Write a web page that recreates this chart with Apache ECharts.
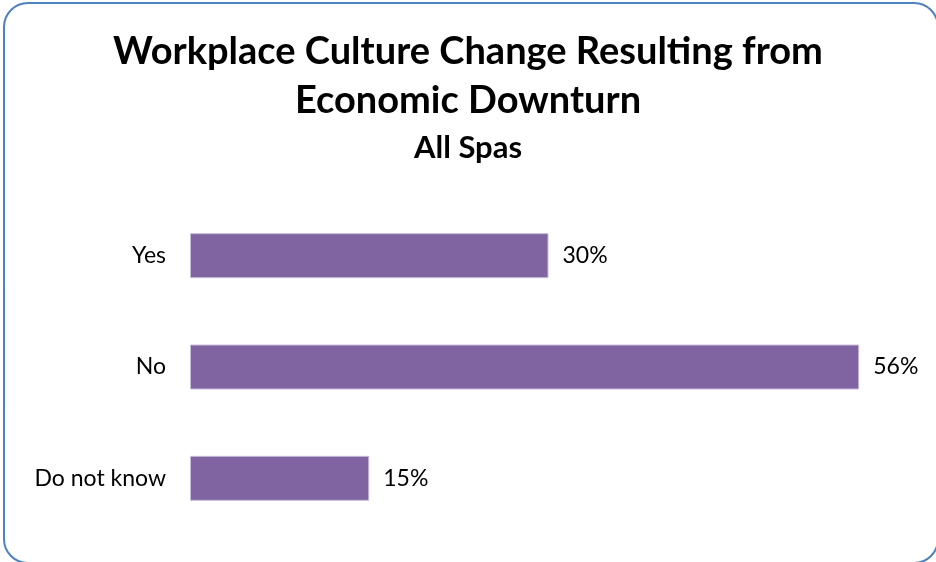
<!DOCTYPE html>
<html>
<head>
<meta charset="utf-8">
<script src="https://cdn.jsdelivr.net/npm/echarts@6/dist/echarts.min.js"></script>
<style>
  html, body { margin: 0; padding: 0; background: #ffffff; }
  #chart { width: 936px; height: 562px; }
</style>
</head>
<body>
<div id="chart"></div>
<script>
// Survey answers and their shares (percent)
const categories = ['Yes', 'No', 'Do not know'];
const shares = [30, 56, 15];

const titleLines = ['Workplace Culture Change Resulting from', 'Economic Downturn'];
const subtitleText = 'All Spas';

const chart = echarts.init(document.getElementById('chart'), null, { renderer: 'canvas' });

const option = {
  backgroundColor: '#ffffff',
  animation: false,
  title: [
    {
      text: titleLines.join('\n'),
      left: 'center',
      top: 22,
      textStyle: {
        fontFamily: 'Lato',
        fontWeight: 'bold',
        fontSize: 38,
        lineHeight: 49,
        color: '#000000'
      }
    },
    {
      text: subtitleText,
      left: 'center',
      top: 127,
      textStyle: {
        fontFamily: 'Lato',
        fontWeight: 'bold',
        fontSize: 31,
        color: '#000000'
      }
    }
  ],
  graphic: [
    {
      type: 'rect',
      shape: { x: 4, y: 3, width: 934, height: 560, r: 24 },
      style: { fill: 'none', stroke: '#4F81BD', lineWidth: 2 },
      silent: true,
      z: 10
    }
  ],
  grid: {
    left: 190,
    top: 200,
    width: 717,
    height: 334,
    containLabel: false
  },
  xAxis: {
    type: 'value',
    min: 0,
    max: 60,
    show: false
  },
  yAxis: {
    type: 'category',
    inverse: true,
    data: categories,
    axisLine: { show: false },
    axisTick: { show: false },
    splitLine: { show: false },
    axisLabel: {
      margin: 24,
      fontFamily: 'Lato',
      fontSize: 23,
      color: '#000000'
    }
  },
  series: [
    {
      type: 'bar',
      data: shares,
      barWidth: 45,
      itemStyle: {
        color: '#8064A2',
        borderColor: '#C9BCDB',
        borderWidth: 1
      },
      label: {
        show: true,
        position: 'right',
        distance: 14,
        formatter: p => p.value + '%',
        fontFamily: 'Lato',
        fontSize: 23,
        color: '#000000'
      }
    }
  ]
};

chart.setOption(option);
</script>
</body>
</html>
